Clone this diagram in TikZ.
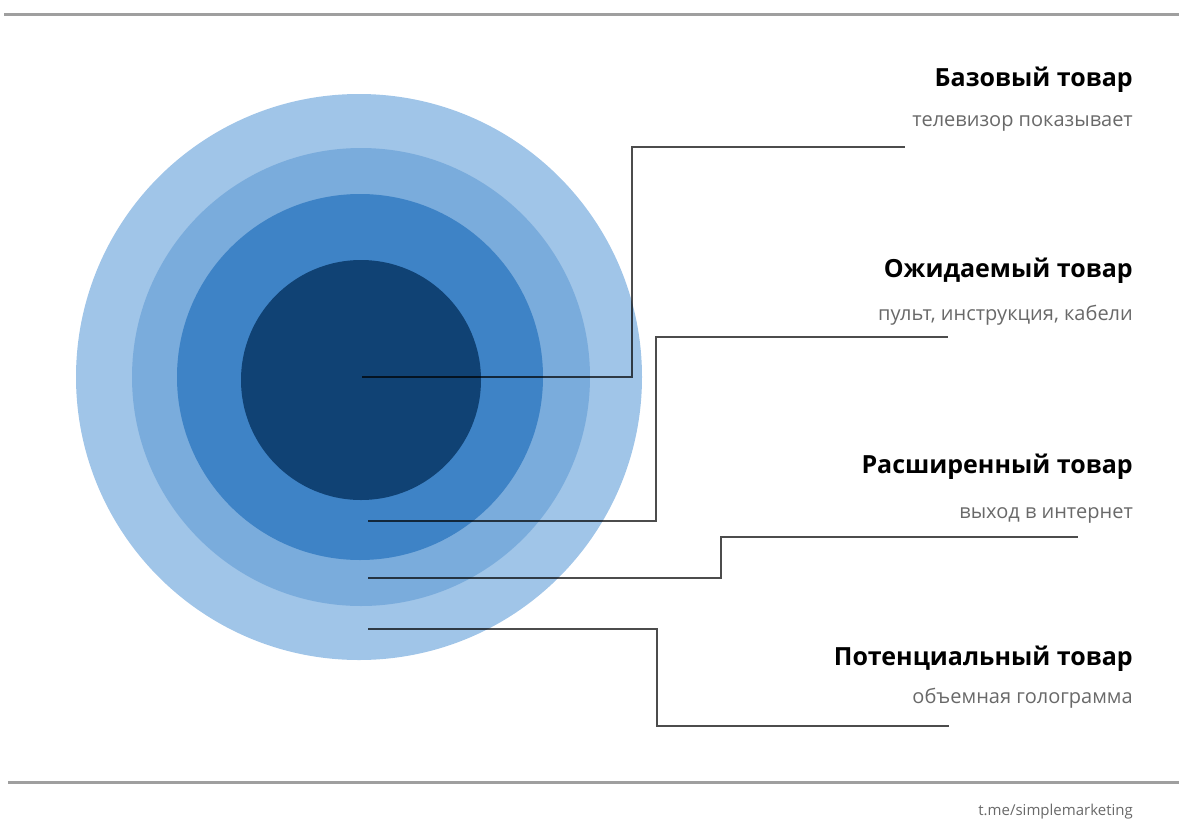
\documentclass[tikz,border=0pt]{standalone}
\usepackage{fontspec}
\setmainfont{Open Sans}
\usetikzlibrary{positioning}
\definecolor{ringA}{RGB}{160,197,232}
\definecolor{ringB}{RGB}{122,172,220}
\definecolor{ringC}{RGB}{62,131,198}
\definecolor{ringD}{RGB}{16,66,116}
\definecolor{subgray}{RGB}{105,105,105}
\tikzset{
  ring/.style={circle, inner sep=0pt, draw=none},
  title/.style={anchor=base east, inner sep=0pt, font=\fontsize{25}{30}\selectfont\bfseries},
  sub/.style={anchor=base east, inner sep=0pt, text=subgray, font=\fontsize{20}{24}\selectfont},
  lead/.style={draw=black, draw opacity=0.7, line width=2pt},
  rule/.style={draw=gray!75, line width=3pt},
}
\begin{document}
\begin{tikzpicture}[x=1pt, y=-1pt]
  \useasboundingbox (0,0) rectangle (1179,820);
  % rules
  \draw[rule] (4,14) -- (1179,14);
  \draw[rule] (8,782) -- (1179,782);
  % rings
  \node[ring, fill=ringA, minimum size=566pt] (potential) at (359,377) {};
  \node[ring, fill=ringB, minimum size=458pt] (extended) at (361,377) {};
  \node[ring, fill=ringC, minimum size=366pt] (expected) at (360,377) {};
  \node[ring, fill=ringD, minimum size=240pt] (basic) at (361,380) {};
  % labels
  \node[title] (t1) at (1133,86) {Базовый товар};
  \node[sub] (s1) at (1133,126) {телевизор показывает};
  \node[title] (t2) at (1133,277) {Ожидаемый товар};
  \node[sub] (s2) at (1133,320) {пульт, инструкция, кабели};
  \node[title] (t3) at (1133,473) {Расширенный товар};
  \node[sub] (s3) at (1133,518) {выход в интернет};
  \node[title] (t4) at (1133,665) {Потенциальный товар};
  \node[sub] (s4) at (1133,703) {объемная голограмма};
  \node[sub, font=\fontsize{15}{18}\selectfont] (src) at (1133,815) {t.me/simplemarketing};
  % leaders
  \coordinate (a1) at (362,377);
  \coordinate (a2) at (368,521);
  \coordinate (a3) at (368,578);
  \coordinate (a4) at (368,629);
  \coordinate (e1) at (905,147);
  \coordinate (e2) at (948,337);
  \coordinate (e3) at (1078,537);
  \coordinate (e4) at (949,726);
  \draw[lead] (a1) -- ++(270,0) |- (e1);
  \draw[lead] (a2) -- ++(288,0) |- (e2);
  \draw[lead] (a3) -- ++(353,0) |- (e3);
  \draw[lead] (a4) -- ++(289,0) |- (e4);
\end{tikzpicture}
\end{document}
